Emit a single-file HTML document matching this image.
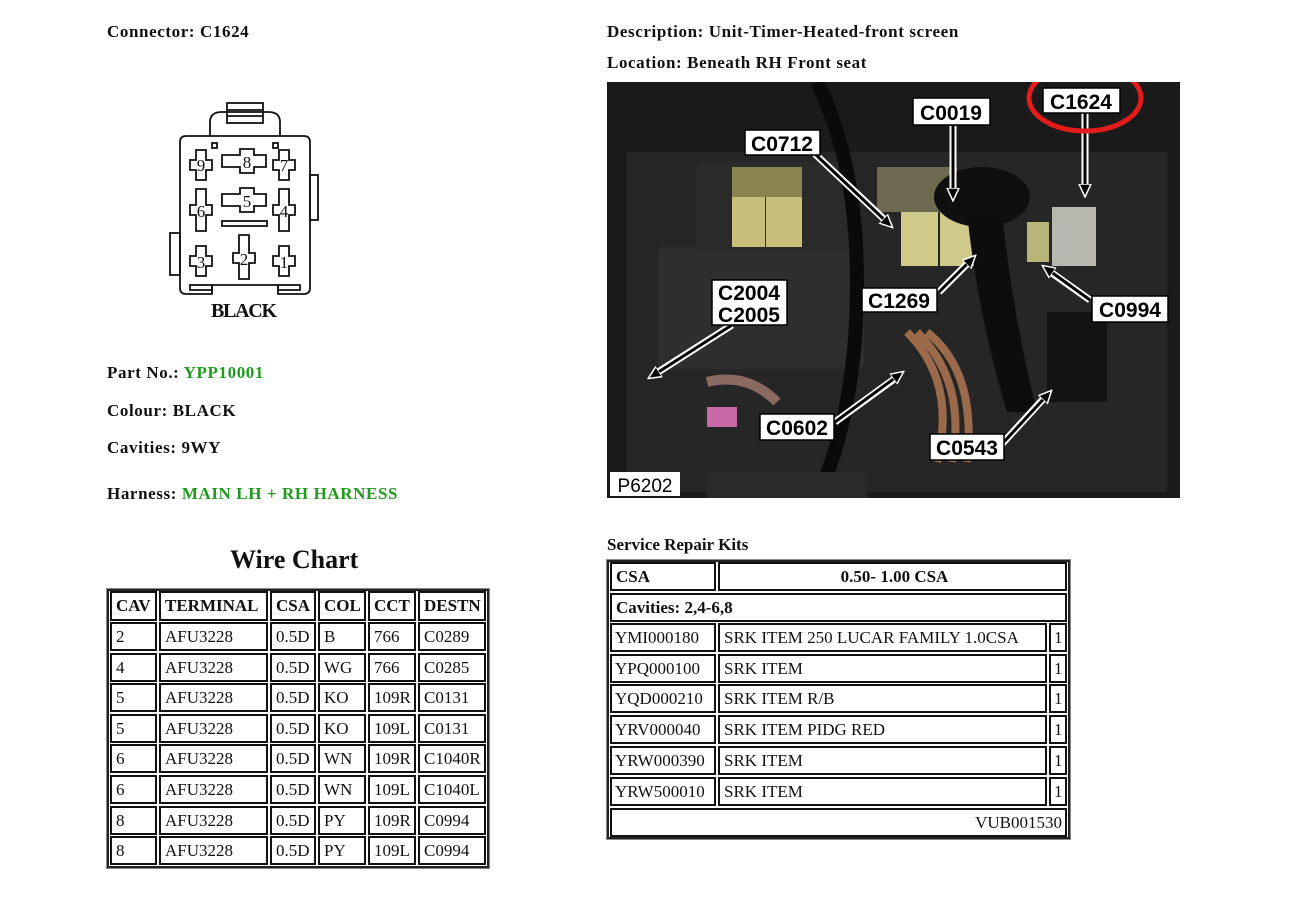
<!DOCTYPE html>
<html><head><meta charset="utf-8"><style>
body{margin:0;width:1290px;height:913px;background:#fff;position:relative;overflow:hidden;font-family:"Liberation Serif",serif;color:#111}
.t{position:absolute;font-size:17px;font-weight:bold;white-space:nowrap;letter-spacing:0.6px}
.g{color:#1e9a1e}
.c{position:absolute;box-sizing:border-box;border:2px solid #111;font-size:17px;padding:0 0 0 4px;line-height:25px;white-space:nowrap;overflow:hidden}
.b{font-weight:bold}
.o{position:absolute;box-sizing:border-box;border:2px solid #222;outline:1px solid #888}
</style></head><body>
<div class="t" style="left:107px;top:22px">Connector: C1624</div>
<div class="t" style="left:607px;top:22px">Description: Unit-Timer-Heated-front screen</div>
<div class="t" style="left:607px;top:53px">Location: Beneath RH Front seat</div>
<div class="t" style="left:107px;top:363px">Part No.: <span class="g">YPP10001</span></div>
<div class="t" style="left:107px;top:401px">Colour: BLACK</div>
<div class="t" style="left:107px;top:438px">Cavities: 9WY</div>
<div class="t" style="left:107px;top:484px">Harness: <span class="g">MAIN LH + RH HARNESS</span></div>
<div class="t" style="left:230px;top:545px;font-size:26px;letter-spacing:0">Wire Chart</div>
<div class="t" style="left:607px;top:535px;letter-spacing:0">Service Repair Kits</div>

<svg style="position:absolute;left:160px;top:100px" width="170" height="230" viewBox="0 0 170 230" fill="none" stroke="#111" stroke-width="1.8">
<path d="M50 36 V22 Q50 12 62 12 H108 Q120 12 120 22 V36"/>
<rect x="67" y="3" width="36" height="20"/><line x1="67" y1="10" x2="103" y2="10"/><line x1="67" y1="16" x2="103" y2="16"/>
<path d="M26 36 H144 Q150 36 150 42 V188 Q150 194 144 194 H118 V185 H52 V194 H26 Q20 194 20 188 V42 Q20 36 26 36Z"/>
<rect x="52" y="43" width="5" height="5"/><rect x="113" y="43" width="5" height="5"/>
<rect x="150" y="75" width="8" height="45"/><rect x="10" y="133" width="10" height="42"/>
<path d="M36 50 h10 v10 h6 v10 h-6 v10 h-10 v-10 h-6 v-10 h6z"/>
<path d="M119 50 h10 v10 h6 v10 h-6 v10 h-10 v-10 h-6 v-10 h6z"/>
<path d="M80 49 h14 v6 h12 v12 h-12 v6 h-14 v-6 h-18 v-12 h18z"/>
<path d="M80 88 h14 v6 h12 v12 h-12 v6 h-14 v-6 h-18 v-12 h18z"/>
<path d="M36 89 h10 v16 h6 v10 h-6 v16 h-10 v-16 h-6 v-10 h6z"/>
<path d="M119 89 h10 v16 h6 v10 h-6 v16 h-10 v-16 h-6 v-10 h6z"/>
<rect x="62" y="121" width="45" height="5"/>
<path d="M36 146 h10 v10 h6 v10 h-6 v10 h-10 v-10 h-6 v-10 h6z"/>
<path d="M119 146 h10 v10 h6 v10 h-6 v10 h-10 v-10 h-6 v-10 h6z"/>
<path d="M79 135 h10 v18 h6 v10 h-6 v16 h-10 v-16 h-6 v-10 h6z"/>
<rect x="30" y="185" width="22" height="5"/><rect x="118" y="185" width="22" height="5"/>
<g fill="#111" stroke="none" font-family="Liberation Serif" font-size="17" text-anchor="middle">
<text x="41" y="71">9</text><text x="87" y="68">8</text><text x="124" y="71">7</text>
<text x="41" y="117">6</text><text x="87" y="107">5</text><text x="124" y="117">4</text>
<text x="41" y="168">3</text><text x="84" y="165">2</text><text x="124" y="168">1</text>
<text x="84" y="217" font-size="20" font-weight="bold" textLength="66">BLACK</text></g>
</svg>

<svg style="position:absolute;left:607px;top:82px" width="573" height="416" viewBox="0 0 573 416">
<defs>
<marker id="a" markerUnits="userSpaceOnUse" markerWidth="14" markerHeight="14" refX="12" refY="7" orient="auto"><path d="M0 1L13 7L0 13z" fill="#000" stroke="#fff" stroke-width="1.5"/></marker></defs>
<rect width="573" height="416" fill="#1a1a1a"/>
<rect x="20" y="70" width="540" height="340" fill="#262626"/>
<rect x="51" y="165" width="206" height="122" fill="#2e2e2e" rx="6"/>
<rect x="90" y="80" width="150" height="90" fill="#2a2a2a"/>
<rect x="125" y="114" width="33" height="51" fill="#c8c07a"/><rect x="159" y="114" width="36" height="51" fill="#c8c07a"/>
<rect x="125" y="85" width="70" height="30" fill="#8a8450"/>
<rect x="294" y="129" width="37" height="55" fill="#cfc98a"/><rect x="333" y="129" width="35" height="55" fill="#cfc98a"/>
<rect x="270" y="85" width="80" height="45" fill="#6d6a50"/>
<rect x="445" y="125" width="44" height="59" fill="#b7b7b0"/>
<rect x="420" y="140" width="22" height="40" fill="#b9b47a"/>
<ellipse cx="375" cy="115" rx="48" ry="30" fill="#0f0f0f"/>
<path d="M360 130 Q370 230 400 330 L430 330 Q405 230 395 130Z" fill="#0d0d0d"/>
<path d="M300 250 Q350 300 330 380 M310 250 Q360 300 345 380 M320 250 Q370 290 360 380" stroke="#9a6a4a" stroke-width="8" fill="none"/>
<path d="M100 300 Q140 290 170 320" stroke="#8a6a60" stroke-width="10" fill="none"/>
<rect x="100" y="325" width="30" height="20" fill="#c86aa8"/>
<path d="M210 0 Q250 80 250 200 Q250 330 210 416" stroke="#0a0a0a" stroke-width="14" fill="none"/>
<rect x="440" y="230" width="60" height="90" fill="#141414"/>
<rect x="100" y="390" width="160" height="26" fill="#2a2a2a"/>
<g stroke="#fff" stroke-width="7" fill="none" stroke-linecap="butt">
<line x1="208" y1="72" x2="278" y2="138"/><line x1="346" y1="44" x2="346" y2="110"/>
<line x1="478" y1="31" x2="478" y2="106"/><line x1="125" y1="243" x2="48" y2="292"/>
<line x1="332" y1="210" x2="362" y2="180"/><line x1="483" y1="218" x2="442" y2="189"/>
<line x1="228" y1="340" x2="290" y2="295"/><line x1="395" y1="362" x2="438" y2="315"/></g>
<g stroke="#000" stroke-width="3" fill="none" marker-end="url(#a)">
<line x1="208" y1="72" x2="285" y2="145"/><line x1="346" y1="44" x2="346" y2="118"/>
<line x1="478" y1="31" x2="478" y2="114"/><line x1="125" y1="243" x2="42" y2="296"/>
<line x1="332" y1="210" x2="368" y2="174"/><line x1="483" y1="218" x2="436" y2="184"/>
<line x1="228" y1="340" x2="296" y2="290"/><line x1="395" y1="362" x2="444" y2="309"/></g>
<g fill="#fff" stroke="#000" stroke-width="1.5">
<rect x="138" y="48" width="75" height="25"/><rect x="306" y="16" width="77" height="27"/>
<rect x="436" y="6" width="77" height="25"/><rect x="105" y="198" width="75" height="45"/>
<rect x="255" y="206" width="75" height="24"/><rect x="485" y="214" width="76" height="26"/>
<rect x="153" y="332" width="74" height="26"/><rect x="323" y="352" width="74" height="26"/>
<rect x="3" y="390" width="70" height="24" stroke="none"/></g>
<g font-family="Liberation Sans" font-weight="bold" font-size="21" fill="#000" text-anchor="middle">
<text x="175" y="69">C0712</text><text x="344" y="38">C0019</text><text x="474" y="27">C1624</text>
<text x="142" y="218">C2004</text><text x="142" y="240">C2005</text><text x="292" y="226">C1269</text>
<text x="523" y="235">C0994</text><text x="190" y="353">C0602</text><text x="360" y="373">C0543</text>
<text x="38" y="410" font-weight="normal" font-size="19">P6202</text></g>
<ellipse cx="478" cy="16" rx="56" ry="33" fill="none" stroke="#e21b1b" stroke-width="5"/>
</svg>

<div class="o" style="left:107px;top:589px;width:382px;height:279px"></div>
<div class="c b" style="left:110px;top:591px;width:47px;height:30px">CAV</div>
<div class="c b" style="left:159px;top:591px;width:109px;height:30px">TERMINAL</div>
<div class="c b" style="left:270px;top:591px;width:46px;height:30px">CSA</div>
<div class="c b" style="left:318px;top:591px;width:48px;height:30px">COL</div>
<div class="c b" style="left:368px;top:591px;width:48px;height:30px">CCT</div>
<div class="c b" style="left:418px;top:591px;width:68px;height:30px">DESTN</div>
<div id="wc"></div>

<div class="o" style="left:607px;top:560px;width:463px;height:279px"></div>
<div class="c b" style="left:610px;top:562px;width:106px;height:29px">CSA</div>
<div class="c b" style="left:718px;top:562px;width:349px;height:29px;text-align:center">0.50- 1.00 CSA</div>
<div class="c b" style="left:610px;top:593px;width:457px;height:29px">Cavities: 2,4-6,8</div>
<div id="sk"></div>
<div class="c" style="left:610px;top:808px;width:457px;height:29px;text-align:right;padding-right:3px">VUB001530</div>
<script>
var r=[["2","B","766","C0289"],["4","WG","766","C0285"],["5","KO","109R","C0131"],["5","KO","109L","C0131"],["6","WN","109R","C1040R"],["6","WN","109L","C1040L"],["8","PY","109R","C0994"],["8","PY","109L","C0994"]];
var cx=[[110,47],[159,109],[270,46],[318,48],[368,48],[418,68]],h="";
r.forEach(function(a,i){var y=Math.round(622+i*30.6);var v=[a[0],"AFU3228","0.5D",a[1],a[2],a[3]];
v.forEach(function(t,j){h+='<div class="c" style="left:'+cx[j][0]+'px;top:'+y+'px;width:'+cx[j][1]+'px;height:29px">'+t+'</div>'})});
document.getElementById("wc").innerHTML=h;
var s=[["YMI000180","SRK ITEM 250 LUCAR FAMILY 1.0CSA"],["YPQ000100","SRK ITEM"],["YQD000210","SRK ITEM R/B"],["YRV000040","SRK ITEM PIDG RED"],["YRW000390","SRK ITEM"],["YRW500010","SRK ITEM"]];h="";
s.forEach(function(a,i){var y=Math.round(623+i*30.7);
h+='<div class="c" style="left:610px;top:'+y+'px;width:106px;height:29px;padding-left:3px">'+a[0]+'</div><div class="c" style="left:718px;top:'+y+'px;width:329px;height:29px">'+a[1]+'</div><div class="c" style="left:1049px;top:'+y+'px;width:18px;height:29px;padding-left:3px">1</div>'});
document.getElementById("sk").innerHTML=h;
</script>
</body></html>
